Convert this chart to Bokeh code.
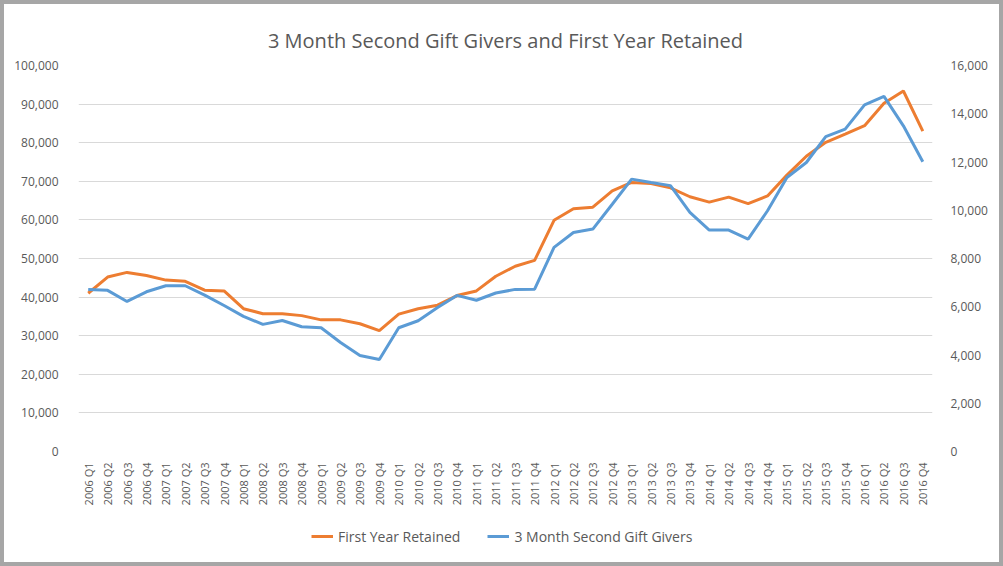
import math
from bokeh.plotting import figure
from bokeh.layouts import column
from bokeh.models import (FactorRange, Range1d, LinearAxis, NumeralTickFormatter,
                          FixedTicker, Legend, LegendItem)
from bokeh.embed import file_html
from bokeh.resources import INLINE

quarters = [f"{y} Q{q}" for y in range(2006, 2017) for q in range(1, 5)]

first_year_retained = [
    41000, 45200, 46400, 45600, 44400, 44100, 41800, 41600,
    37000, 35700, 35700, 35200, 34100, 34100, 33100, 31300,
    35600, 37000, 37900, 40400, 41600, 45400, 48000, 49500,
    59900, 62900, 63300, 67500, 69700, 69400, 68300, 66000,
    64600, 65900, 64200, 66200, 71600, 76500, 80100, 82200,
    84400, 90200, 93400, 83000,
]

second_gift_givers = [
    6720, 6680, 6220, 6620, 6870, 6870, 6480, 6050,
    5600, 5270, 5430, 5170, 5130, 4520, 3980, 3810,
    5130, 5420, 5970, 6470, 6270, 6570, 6720, 6730,
    8460, 9080, 9220, 10250, 11290, 11150, 11020, 9910,
    9180, 9180, 8800, 9980, 11360, 11980, 13050, 13360,
    14370, 14720, 13500, 12010,
]

series_names = ["First Year Retained", "3 Month Second Gift Givers"]
left_ticks = list(range(0, 100001, 10000))
right_ticks = list(range(0, 16001, 2000))

ORANGE = "#ED7D31"
BLUE = "#5B9BD5"
TXT = "#595959"
GRID = "#D9D9D9"
FONT = "Open Sans"

p = figure(
    width=995, height=511,
    x_range=FactorRange(factors=quarters, range_padding=0),
    y_range=Range1d(0, 100000),
    output_backend="svg", toolbar_location=None,
)
p.min_border_left = 74
p.min_border_right = 67
p.min_border_top = 61
p.min_border_bottom = 64
p.outline_line_color = None
p.background_fill_color = "white"
p.border_fill_color = "white"

p.title.text = "3 Month Second Gift Givers and First Year Retained"
p.title.align = "center"
p.title.text_font = FONT
p.title.text_font_size = "20px"
p.title.text_font_style = "normal"
p.title.text_color = TXT
p.title.standoff = 24

p.extra_y_ranges = {"right": Range1d(0, 16000)}

p.line(x=quarters, y=first_year_retained, color=ORANGE, line_width=3)
p.line(x=quarters, y=second_gift_givers, color=BLUE, line_width=3,
       y_range_name="right")

# left axis
ya = p.yaxis[0]
ya.ticker = FixedTicker(ticks=left_ticks)
ya.formatter = NumeralTickFormatter(format="0,0")
ya.axis_line_color = None
ya.major_tick_line_color = None
ya.minor_tick_line_color = None
ya.major_label_text_color = TXT
ya.major_label_text_font = FONT
ya.major_label_text_font_size = "12px"
ya.major_label_standoff = 14

# right axis
ra = LinearAxis(y_range_name="right", ticker=FixedTicker(ticks=right_ticks),
                formatter=NumeralTickFormatter(format="0,0"))
ra.axis_line_color = None
ra.major_tick_line_color = None
ra.minor_tick_line_color = None
ra.major_label_text_color = TXT
ra.major_label_text_font = FONT
ra.major_label_text_font_size = "12px"
ra.major_label_standoff = 12
p.add_layout(ra, "right")

# x axis
xa = p.xaxis[0]
xa.axis_line_color = None
xa.major_tick_line_color = None
xa.minor_tick_line_color = None
xa.major_label_orientation = math.pi / 2
xa.major_label_text_color = TXT
xa.major_label_text_font = FONT
xa.major_label_text_font_size = "11px"
xa.major_label_standoff = 5

p.xgrid.grid_line_color = None
p.ygrid[0].ticker = FixedTicker(ticks=left_ticks)
p.ygrid.grid_line_color = GRID
p.ygrid.grid_line_width = 1

# legend strip (separate small figure below the chart)
lg = figure(
    width=995, height=47,
    x_range=FactorRange(factors=quarters, range_padding=0),
    y_range=Range1d(1e6, 2e6),
    output_backend="svg", toolbar_location=None,
)
lg.min_border = 0
lg.outline_line_color = None
lg.axis.visible = False
lg.grid.visible = False
l1 = lg.line(x=quarters, y=first_year_retained, color=ORANGE, line_width=3)
l2 = lg.line(x=quarters, y=second_gift_givers, color=BLUE, line_width=3)

legend = Legend(items=[
    LegendItem(label=series_names[0], renderers=[l1]),
    LegendItem(label=series_names[1], renderers=[l2]),
], orientation="horizontal", location=(233, 16))
legend.border_line_color = None
legend.background_fill_alpha = 0
legend.label_text_font = FONT
legend.label_text_font_size = "14px"
legend.label_text_color = TXT
legend.glyph_width = 22
legend.label_standoff = 5
legend.spacing = 27
legend.margin = 0
legend.padding = 4
lg.add_layout(legend, "center")

layout = column(p, lg, spacing=0, styles={"border": "4px solid #A6A6A6"})

open("out.html", "w").write(file_html(layout, INLINE))
